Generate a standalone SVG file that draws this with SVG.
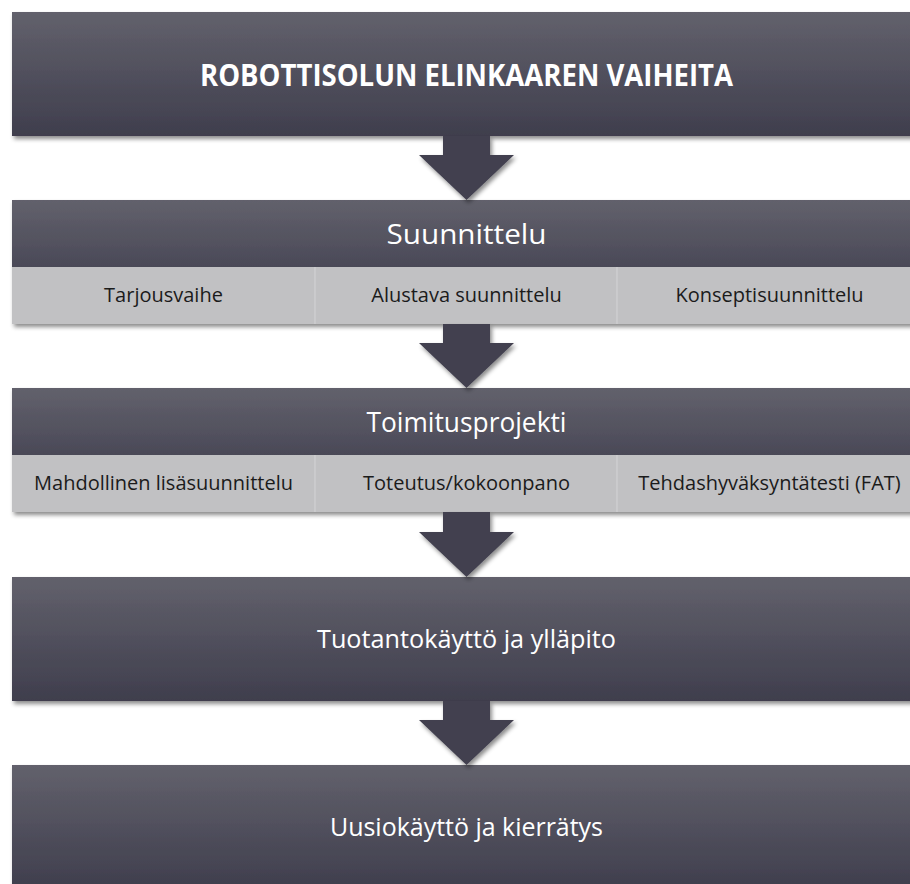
<svg xmlns="http://www.w3.org/2000/svg" width="910" height="884" viewBox="0 0 910 884">
<defs>
<linearGradient id="gDark" x1="0" y1="0" x2="0" y2="1">
<stop offset="0" stop-color="#62616c"/>
<stop offset="1" stop-color="#3f3e4d"/>
</linearGradient>
<linearGradient id="gHead" x1="0" y1="0" x2="0" y2="1">
<stop offset="0" stop-color="#62616c"/>
<stop offset="1" stop-color="#4a4957"/>
</linearGradient>
<filter id="sh" x="-5%" y="-20%" width="115%" height="150%">
<feDropShadow dx="2" dy="3" stdDeviation="2" flood-color="#000" flood-opacity="0.45"/>
</filter>
</defs>
<style>
.dark{fill:url(#gDark)}
.head{fill:url(#gHead)}
.sub{fill:#c1c1c3}
.div{stroke:#d4d4d6;stroke-width:1}
.lbl{font-family:"Open Sans","Liberation Sans",sans-serif;fill:#ffffff;text-anchor:middle;font-size:26px}
.hl{font-family:"Open Sans","Liberation Sans",sans-serif;fill:#ffffff;text-anchor:middle;font-size:28px}
.title{font-family:"Open Sans","Liberation Sans",sans-serif;fill:#ffffff;text-anchor:middle;font-size:30px;font-weight:bold}
.sl{font-family:"Open Sans","Liberation Sans",sans-serif;fill:#1b1b1b;text-anchor:middle;font-size:20px}
.arrow{fill:#42414f}
</style>
<rect width="910" height="884" fill="#ffffff"/>

<g id="title-box">
<rect class="dark" x="12" y="12" width="909" height="124" filter="url(#sh)"/>
<text class="title" x="466.5" y="86" textLength="533" lengthAdjust="spacingAndGlyphs">ROBOTTISOLUN ELINKAAREN VAIHEITA</text>
</g>

<g id="suunnittelu">
<g filter="url(#sh)">
<rect class="head" x="12" y="200" width="909" height="67"/>
<rect class="sub" x="12" y="267" width="909" height="57"/>
</g>
<line class="div" x1="315" y1="267" x2="315" y2="324"/>
<line class="div" x1="617" y1="267" x2="617" y2="324"/>
<text class="hl" x="466.5" y="244" textLength="160" lengthAdjust="spacingAndGlyphs">Suunnittelu</text>
<text class="sl" x="163.5" y="302">Tarjousvaihe</text>
<text class="sl" x="466.5" y="302">Alustava suunnittelu</text>
<text class="sl" x="769.5" y="302">Konseptisuunnittelu</text>
</g>

<g id="toimitusprojekti">
<g filter="url(#sh)">
<rect class="head" x="12" y="388" width="909" height="67"/>
<rect class="sub" x="12" y="455" width="909" height="57"/>
</g>
<line class="div" x1="315" y1="455" x2="315" y2="512"/>
<line class="div" x1="617" y1="455" x2="617" y2="512"/>
<text class="hl" x="466.5" y="432" textLength="200" lengthAdjust="spacingAndGlyphs">Toimitusprojekti</text>
<text class="sl" x="163.5" y="490">Mahdollinen lisäsuunnittelu</text>
<text class="sl" x="466.5" y="490">Toteutus/kokoonpano</text>
<text class="sl" x="769.5" y="490">Tehdashyväksyntätesti (FAT)</text>
</g>

<g id="tuotantokaytto">
<rect class="dark" x="12" y="577" width="909" height="124" filter="url(#sh)"/>
<text class="lbl" x="466.5" y="648" textLength="299" lengthAdjust="spacingAndGlyphs">Tuotantokäyttö ja ylläpito</text>
</g>

<g id="uusiokaytto">
<rect class="dark" x="12" y="765" width="909" height="124" filter="url(#sh)"/>
<text class="lbl" x="466.5" y="836" textLength="273" lengthAdjust="spacingAndGlyphs">Uusiokäyttö ja kierrätys</text>
</g>

<g id="connectors" filter="url(#sh)">
<path class="arrow" d="M443,136 L490,136 L490,155 L514,155 L466.5,200 L419,155 L443,155 Z"/>
<path class="arrow" d="M443,324 L490,324 L490,343 L514,343 L466.5,388 L419,343 L443,343 Z"/>
<path class="arrow" d="M443,512 L490,512 L490,532 L514,532 L466.5,577 L419,532 L443,532 Z"/>
<path class="arrow" d="M443,701 L490,701 L490,720 L514,720 L466.5,765 L419,720 L443,720 Z"/>
</g>
</svg>
